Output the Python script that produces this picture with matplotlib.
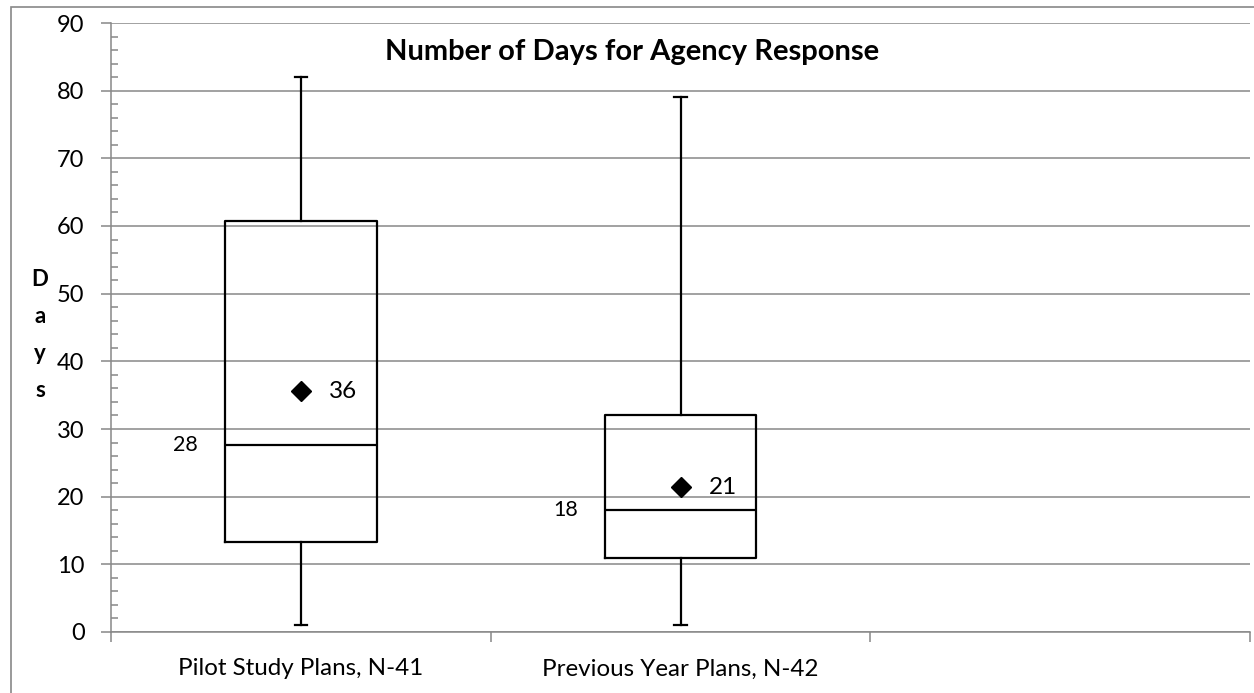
import matplotlib

matplotlib.use("Agg")
import matplotlib.pyplot as plt
from matplotlib.patches import Rectangle

# Box plot summary for agency response times (days)
groups = ["Pilot Study Plans, N-41", "Previous Year Plans, N-42"]
whisker_low = [1, 1]
q1 = [13.3, 11]
median = [27.6, 18]
q3 = [60.7, 32]
whisker_high = [82, 79]
mean = [35.6, 21.4]

plt.rcParams['font.family'] = ['Lato', 'DejaVu Sans']

W, H = 1254, 693
fig = plt.figure(figsize=(W / 100, H / 100), dpi=100)
ax = fig.add_axes([111 / W, 1 - 632 / H, (1250 - 111) / W, (632 - 23) / H])

grid_c = "#888888"

stats = []
for i, name in enumerate(groups):
    stats.append(dict(label=name, whislo=whisker_low[i], q1=q1[i], med=median[i],
                      q3=q3[i], whishi=whisker_high[i], mean=mean[i], fliers=[]))

line = dict(color="black", linewidth=1.6)
ax.bxp(stats, positions=range(len(groups)), widths=0.4, capwidths=0.032,
       showmeans=True, patch_artist=False,
       boxprops=line, whiskerprops=line, capprops=line, medianprops=line,
       meanprops=dict(marker="D", markerfacecolor="black", markeredgecolor="black",
                      markersize=10.5),
       zorder=3)

# value labels: median to the left of the box, mean to the right of the diamond
for i in range(len(groups)):
    ax.annotate(f"{median[i]:.0f}", xy=(i - 0.2, median[i]), xytext=(-27, 0),
                textcoords="offset pixels", ha="right", va="center", fontsize=15.5)
    ax.annotate(f"{mean[i]:.0f}", xy=(i, mean[i]), xytext=(28, 0),
                textcoords="offset pixels", ha="left", va="center", fontsize=17.5)

ax.set_xlim(-0.5, 2.5)
ax.set_ylim(0, 90)
ax.set_yticks(range(0, 91, 10))
ax.set_yticks(range(0, 91, 2), minor=True)
ax.yaxis.grid(True, color=grid_c, linewidth=1.1)
ax.set_axisbelow(True)

ax.set_xticks([-0.5, 0.5, 1.5, 2.5])
ax.set_xticklabels([])
ax.set_xticks(range(len(groups)), minor=True)
ax.set_xticklabels(groups, minor=True)
ax.tick_params(axis="x", which="major", direction="out", length=7, color=grid_c, width=1.1)
ax.tick_params(axis="x", which="minor", length=0, pad=19, labelsize=17.4)
ax.tick_params(axis="y", which="major", direction="out", length=7, color=grid_c,
               width=1.1, labelsize=17, pad=12)
ax.tick_params(axis="y", which="minor", direction="in", length=5, color=grid_c, width=1.1)

for side in ["top", "right"]:
    ax.spines[side].set_visible(False)
for side in ["left", "bottom"]:
    ax.spines[side].set_color(grid_c)
    ax.spines[side].set_linewidth(1.1)

ax.text(632 / W, 1 - 52 / H, "Number of Days for Agency Response", transform=fig.transFigure,
        ha="center", va="center", fontsize=21, fontweight="bold")
fig.text(40 / W, 1 - 335 / H, "D\na\ny\ns", ha="center", va="center",
         fontsize=16, fontweight="bold", linespacing=1.95)

# chart area frame
fig.patches.append(Rectangle((11 / W, -0.1), 1.2, 1.1 - 7 / H, transform=fig.transFigure,
                             fill=False, edgecolor=grid_c, linewidth=1.2))

fig.savefig("out.png", dpi=100)
